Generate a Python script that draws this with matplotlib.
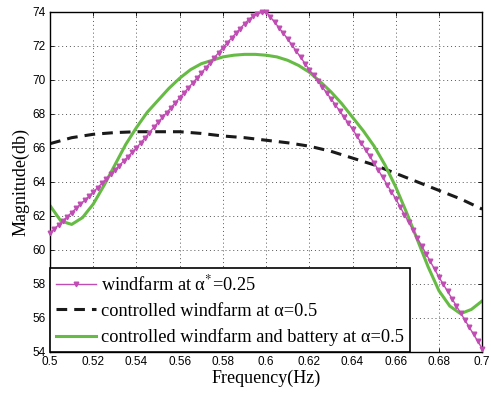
import numpy as np
import matplotlib.pyplot as plt

# magnitude response
freq_wf = np.round(np.arange(0.5, 0.7001, 0.002), 3)
mag_wf = [61.00, 61.24, 61.48, 61.72, 61.96, 62.20, 62.44, 62.68, 62.92, 63.16,
          63.40, 63.66, 63.92, 64.18, 64.44, 64.70, 64.96, 65.22, 65.48, 65.74,
          66.00, 66.30, 66.60, 66.90, 67.20, 67.50, 67.79, 68.08, 68.37, 68.66,
          68.95, 69.24, 69.53, 69.82, 70.11, 70.40, 70.70, 71.00, 71.30, 71.60,
          71.90, 72.18, 72.46, 72.74, 73.02, 73.30, 73.55, 73.75, 73.90, 73.98,
          74.00, 73.70, 73.38, 73.06, 72.74, 72.40, 72.04, 71.68, 71.32, 70.96,
          70.60, 70.26, 69.92, 69.58, 69.24, 68.90, 68.54, 68.18, 67.82, 67.46,
          67.10, 66.70, 66.30, 65.90, 65.50, 65.10, 64.68, 64.26, 63.84, 63.42,
          63.00, 62.54, 62.08, 61.62, 61.16, 60.70, 60.24, 59.78, 59.32, 58.86,
          58.40, 57.98, 57.56, 57.14, 56.72, 56.30, 55.88, 55.46, 55.04, 54.62,
          54.20]

freq_ctrl = np.round(np.arange(0.5, 0.7001, 0.01), 3)
mag_ctrl = [66.25, 66.6, 66.8, 66.9, 66.95, 66.95, 66.95, 66.85, 66.7, 66.6,
            66.45, 66.3, 66.1, 65.8, 65.4, 65.0, 64.5, 64.0, 63.5, 63.0, 62.4]

freq_bat = np.round(np.arange(0.5, 0.7001, 0.005), 3)
mag_bat = [62.6, 61.7, 61.5, 61.9, 62.7, 63.8, 65.0, 66.2, 67.2, 68.1,
           68.8, 69.5, 70.1, 70.6, 70.95, 71.15, 71.35, 71.45, 71.5, 71.5,
           71.45, 71.35, 71.15, 70.85, 70.45, 69.9, 69.3, 68.6, 67.8, 67.0,
           66.1, 65.0, 63.7, 62.2, 60.6, 59.0, 57.6, 56.7, 56.25, 56.5, 57.0]

xticks = [0.5, 0.52, 0.54, 0.56, 0.58, 0.6, 0.62, 0.64, 0.66, 0.68, 0.7]
xticklabels = ["0.5", "0.52", "0.54", "0.56", "0.58", "0.6", "0.62", "0.64", "0.66", "0.68", "0.7"]
yticks = [54, 56, 58, 60, 62, 64, 66, 68, 70, 72, 74]

plt.rcParams['mathtext.fontset'] = 'stix'
serif = 'Liberation Serif'

fig = plt.figure(figsize=(4.91, 3.95), dpi=100)
ax = fig.add_axes([0.102, 0.109, 0.880, 0.861])

ax.plot(freq_wf, mag_wf, color='#c04db3', lw=1.0, marker='v', ms=3.3,
        label='windfarm at α$^{*}$=0.25', clip_on=False, zorder=3)
ax.plot(freq_ctrl, mag_ctrl, color='#1a1a1a', lw=2.2, ls=(0, (3.5, 2.3)),
        label='controlled windfarm at α=0.5', zorder=2)
ax.plot(freq_bat, mag_bat, color='#66bb44', lw=2.2,
        label='controlled windfarm and battery at α=0.5', zorder=2)

ax.set_xlim(0.5, 0.7)
ax.set_ylim(54, 74)
ax.set_xticks(xticks)
ax.set_xticklabels(xticklabels, family='Liberation Sans', fontsize=8.5)
ax.set_yticks(yticks)
ax.set_yticklabels([str(v) for v in yticks], family='Liberation Sans', fontsize=8.5)
ax.tick_params(direction='in', length=3, width=0.6, top=True, right=True, pad=3)
ax.grid(True, ls=(0, (1, 3)), color='#555555', lw=0.7)
for s in ax.spines.values():
    s.set_linewidth(1.0)

ax.set_xlabel('Frequency(Hz)', family=serif, fontsize=13, labelpad=1)
ax.set_ylabel('Magnitude(db)', family=serif, fontsize=13, labelpad=2)

leg = ax.legend(loc='lower left', borderaxespad=0, fancybox=False,
                prop={'family': serif, 'size': 13.2}, handlelength=2.2,
                handletextpad=0.28, labelspacing=0.47, borderpad=0.32,
                framealpha=1)
leg.get_frame().set_edgecolor('black')
leg.get_frame().set_linewidth(1.2)

plt.savefig('out.png', dpi=100)
